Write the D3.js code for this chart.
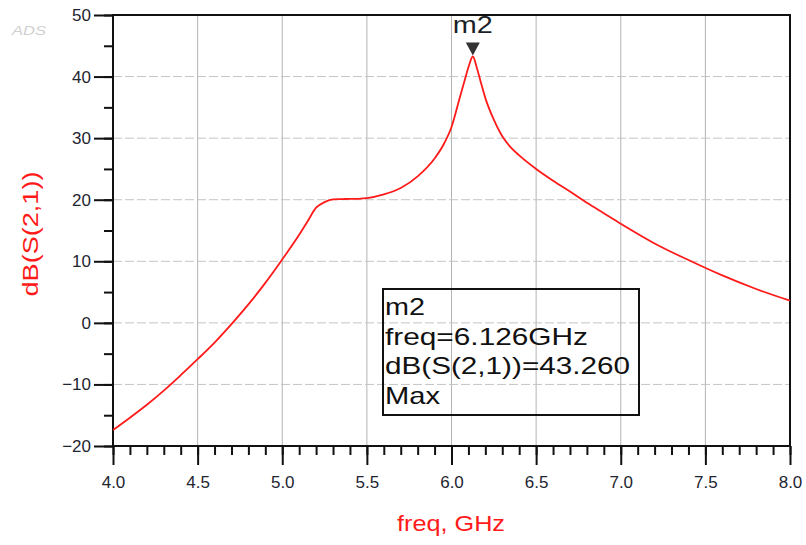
<!DOCTYPE html>
<html>
<head>
<meta charset="utf-8">
<script src="https://cdn.jsdelivr.net/npm/d3@7"></script>
<style>
body{margin:0;background:#fff}
svg{display:block;font-family:"Liberation Sans",Arial,sans-serif}
</style>
</head>
<body>
<svg id="display" width="806" height="545"></svg>
<script>
// curve data
const freq_ghz=[4.0,4.1,4.2,4.3,4.4,4.5,4.6,4.7,4.8,4.9,5.0,5.1,5.15,5.2,5.25,5.3,5.35,5.4,5.45,5.5,5.6,5.7,5.8,5.9,5.95,6.0,6.05,6.08,6.1,6.126,6.15,6.17,6.2,6.25,6.3,6.35,6.4,6.5,6.6,6.7,6.8,6.9,7.0,7.2,7.4,7.6,7.8,8.0];
const s21_db=[-17.4,-15.4,-13.3,-11.0,-8.5,-5.9,-3.2,-0.2,3.0,6.5,10.3,14.3,16.5,18.7,19.6,20.05,20.1,20.12,20.15,20.25,20.85,21.9,23.8,26.7,28.8,31.8,36.7,39.6,41.5,43.26,41.4,39.4,36.5,33.0,30.3,28.5,27.2,25.0,23.1,21.35,19.5,17.8,16.1,12.9,10.2,7.7,5.5,3.6];

// axes
const x_ticks=[4.0,4.5,5.0,5.5,6.0,6.5,7.0,7.5,8.0];
const x_minor=d3.range(40,81).map(d=>d/10);
const y_ticks=[-20,-10,0,10,20,30,40,50];
const y_minor=d3.range(-20,51,5);
const x_title="freq, GHz";
const y_title="dB(S(2,1))";

// marker
const marker_name="m2";
const marker_freq=6.126;
const marker_db=43.26;
const marker_lines=["m2","freq=6.126GHz","dB(S(2,1))=43.260","Max"];
const marker_widths=[40,203,245,55];

const display=d3.select("#display");
const plot_left=113, plot_top=15, plot_width=677, plot_height=431;

const x=d3.scaleLinear().domain([4,8]).range([0,plot_width]);
const y=d3.scaleLinear().domain([-20,50]).range([plot_height,0]);

const plot=display.append("g").attr("transform","translate("+plot_left+","+plot_top+")");

// grid
plot.append("g").selectAll("line").data(x_ticks.slice(1,-1)).join("line")
    .attr("x1",d=>x(d)).attr("x2",d=>x(d))
    .attr("y1",0).attr("y2",plot_height)
    .attr("stroke","#b4b4b4").attr("stroke-width",1);
plot.append("g").selectAll("line").data(y_ticks.slice(1,-1)).join("line")
    .attr("x1",0).attr("x2",plot_width)
    .attr("y1",d=>y(d)).attr("y2",d=>y(d))
    .attr("stroke","#c4c4c4").attr("stroke-width",1)
    .attr("stroke-dasharray","9,3");

// minor ticks
const xMinor=plot.append("g").attr("transform","translate(0,"+plot_height+")")
    .call(d3.axisBottom(x).tickValues(x_minor).tickSize(9).tickFormat(""));
const yMinor=plot.append("g")
    .call(d3.axisLeft(y).tickValues(y_minor).tickSize(9).tickFormat(""));

// major ticks
const xAxis=plot.append("g").attr("transform","translate(0,"+plot_height+")")
    .call(d3.axisBottom(x).tickValues(x_ticks).tickSize(19).tickPadding(11).tickFormat(d3.format(".1f")));
const yAxis=plot.append("g")
    .call(d3.axisLeft(y).tickValues(y_ticks).tickSize(19).tickPadding(3).tickFormat(d3.format("d")));

for (const ax of [xMinor,yMinor,xAxis,yAxis]){
    ax.select(".domain").remove();
    ax.selectAll(".tick line").attr("stroke","#111").attr("stroke-width",2);
    ax.selectAll(".tick text")
        .attr("fill","#1e2530")
        .style("font-size","17px")
        .style("font-family","\"Liberation Sans\",Arial,sans-serif");
}

// frame
plot.append("rect")
    .attr("x",0).attr("y",0)
    .attr("width",plot_width).attr("height",plot_height)
    .attr("fill","none").attr("stroke","#111").attr("stroke-width",2);

// curve
const line=d3.line()
    .x((d,i)=>x(freq_ghz[i]))
    .y(d=>y(d))
    .curve(d3.curveMonotoneX);
plot.append("path")
    .datum(s21_db)
    .attr("d",line)
    .attr("fill","none")
    .attr("stroke","#ff1a1a")
    .attr("stroke-width",1.8);

// marker triangle + name
const mx=x(marker_freq), my=y(marker_db);
plot.append("path")
    .attr("d","M"+(mx-7)+","+(my-14)+"L"+(mx+7)+","+(my-14)+"L"+mx+","+(my-1)+"Z")
    .attr("fill","#333");
plot.append("text")
    .attr("x",mx-20).attr("y",18)
    .attr("textLength",40).attr("lengthAdjust","spacingAndGlyphs")
    .style("font-size","24px")
    .attr("fill","#1a1f28")
    .text(marker_name);

// marker readout box
const box=display.append("g").attr("transform","translate(383,289)");
box.append("rect")
    .attr("width",256).attr("height",126)
    .attr("fill","none").attr("stroke","#111").attr("stroke-width",2);
box.selectAll("text").data(marker_lines).join("text")
    .attr("x",2)
    .attr("y",(d,i)=>26+i*29.5)
    .attr("textLength",(d,i)=>marker_widths[i])
    .attr("lengthAdjust","spacingAndGlyphs")
    .style("font-size","24px")
    .attr("fill","#111")
    .text(d=>d);

// titles
display.append("text")
    .attr("x",451).attr("y",531)
    .attr("text-anchor","middle")
    .attr("textLength",108).attr("lengthAdjust","spacingAndGlyphs")
    .style("font-size","22px")
    .attr("fill","#ff1a1a")
    .text(x_title);
display.append("text")
    .attr("transform","translate(38,234) rotate(-90)")
    .attr("text-anchor","middle")
    .attr("textLength",125).attr("lengthAdjust","spacingAndGlyphs")
    .style("font-size","22px")
    .attr("fill","#ff1a1a")
    .text(y_title);

// faint logo
display.append("text")
    .attr("x",12).attr("y",35)
    .attr("textLength",34).attr("lengthAdjust","spacingAndGlyphs")
    .style("font-size","13px").style("font-style","italic")
    .attr("fill","#cfcfcf")
    .text("ADS");
</script>
</body>
</html>
